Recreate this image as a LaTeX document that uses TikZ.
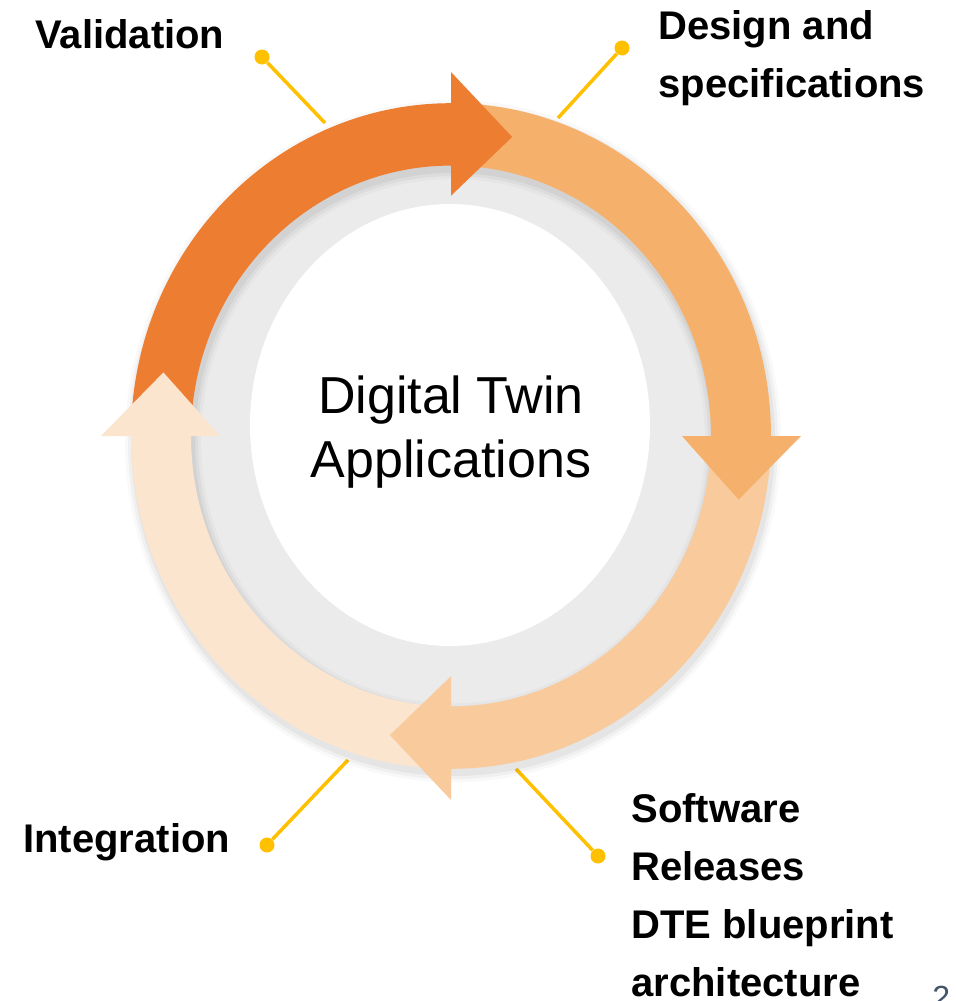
\documentclass[tikz,border=0pt]{standalone}
\usepackage{fontspec}
\setmainfont{Liberation Sans}
\usetikzlibrary{positioning}

\definecolor{stepA}{HTML}{ED7D31}
\definecolor{stepB}{HTML}{F5B06B}
\definecolor{stepC}{HTML}{F8CA9C}
\definecolor{stepD}{HTML}{FBE5CF}
\definecolor{ringgray}{HTML}{EBEBEB}
\definecolor{gold}{HTML}{FFC000}
\definecolor{slate}{HTML}{44546A}

\tikzset{
  phase/.style={font=\bfseries\fontsize{20}{29}\selectfont, inner sep=0pt, align=left},
  pin/.style={circle, fill=gold, inner sep=0pt, minimum size=7.5pt},
  leader/.style={draw=gold, line width=1.75pt},
}

\begin{document}
\begin{tikzpicture}[x=0.5pt, y=0.5pt]
			\useasboundingbox (0,0) rectangle (956,-1001);
			\fill[white] (0,0) rectangle (956,-1001);

			% Pins and leader lines
			\node[pin] (pv) at (262,-57) {};
			\node[pin] (pd) at (622,-48) {};
			\node[pin] (pi) at (267,-845) {};
			\node[pin] (ps) at (598,-856) {};
			\coordinate (rv) at (325,-123);
			\coordinate (rd) at (558,-118);
			\coordinate (ri) at (348,-760);
			\coordinate (rs) at (516,-769);
			\draw[leader] (pv) -- (rv);
			\draw[leader] (pd) -- (rd);
			\draw[leader] (pi) -- (ri);
			\draw[leader] (ps) -- (rs);

			% Ring
			\begin{scope}[shift={(451,-436)}, yscale=1.04]
				\fill[ringgray] (0,0) circle[radius=265];
				\foreach \w/\op in {8/0.025, 5/0.035, 2/0.045}
					\fill[black, opacity=\op, even odd rule] (2,-5) circle[radius=320+\w] (2,-5) circle[radius=260-\w];
				\foreach \a/\c in {180/stepA, 90/stepB, 0/stepC, -90/stepD}
					\fill[\c] (\a:320) arc[start angle=\a, end angle=\a-90, radius=320]
						-- ({\a-90}:260) arc[start angle=\a-90, end angle=\a, radius=260] -- cycle;
				\foreach \a/\c in {90/stepA, 0/stepB, -90/stepC, -180/stepD}
					\fill[\c] (\a:350) -- ({\a-12}:294) -- (\a:231) -- cycle;
			\end{scope}
			\fill[white] (450,-425) ellipse[x radius=200, y radius=221];

			% Texts
			\node[font=\fontsize{26}{32}\selectfont, align=center, inner sep=0pt, anchor=north] (core) at (451,-375) {Digital Twin\\Applications};
			\node[phase, anchor=base west] (val) at (35,-48) {Validation};
			\node[phase, anchor=north west] (des) at (658,-10) {Design and\\specifications};
			\node[phase, anchor=base west] (int) at (23,-852) {Integration};
			\node[phase, anchor=north west] (sw) at (631,-793) {Software\\Releases\\DTE blueprint\\architecture};
			\node[text=slate, font=\fontsize{16}{19}\selectfont, inner sep=0pt, anchor=base west] (pg) at (932,-1008) {2};
		\end{tikzpicture}
\end{document}
